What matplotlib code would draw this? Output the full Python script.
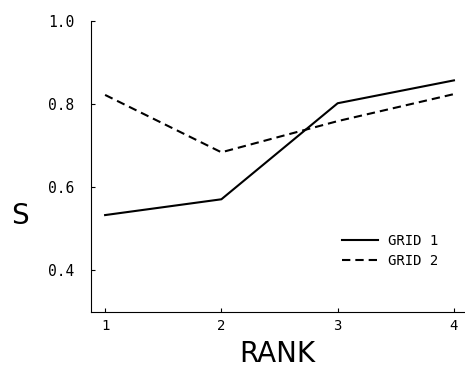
# similarity S against rank for two grids

import matplotlib
matplotlib.use('Agg')
from matplotlib import pyplot as plt

rank = [1, 2, 3, 4]
grid1 = [0.533, 0.571, 0.802, 0.857]
grid2 = [0.822, 0.684, 0.759, 0.824]
series_names = ['GRID 1', 'GRID 2']
yticks = [0.4, 0.6, 0.8, 1.0]
ytick_labels = ['0.4', '0.6', '0.8', '1.0']

mono = 'DejaVu Sans Mono'

fig = plt.figure(figsize=(4.65, 3.67), dpi=100)
ax = fig.add_axes([0.196, 0.150, 0.804, 0.793])

ax.plot(rank, grid1, color='black', lw=1.5, label=series_names[0])
ax.plot(rank, grid2, color='black', lw=1.5, dashes=(4, 2.4),
        label=series_names[1])

ax.set_xlim(0.88, 4.095)
ax.set_ylim(0.3, 1.0)
ax.set_xticks(rank)
ax.set_xticklabels([str(r) for r in rank], fontfamily=mono, fontsize=10)
ax.set_yticks(yticks)
ax.set_yticklabels(ytick_labels, fontfamily=mono, fontsize=10.5)

ax.spines['top'].set_visible(False)
ax.spines['right'].set_visible(False)
ax.tick_params(axis='y', direction='in', length=3, width=0.8, pad=12)
ax.tick_params(axis='x', direction='in', length=3, width=0.8, pad=5)

ax.set_xlabel('RANK', fontsize=20, va='center')
ax.xaxis.set_label_coords(0.497, -0.145)
ax.set_ylabel('S', fontsize=20, rotation=0, va='center')
ax.yaxis.set_label_coords(-0.19, 0.33)

leg = ax.legend(loc='center left', bbox_to_anchor=(0.7355, 0.316),
                bbox_transform=fig.transFigure, frameon=False,
                borderpad=0, borderaxespad=0, handlelength=2.6,
                handletextpad=0.7, labelspacing=0.45,
                prop={'family': mono, 'size': 10})

fig.savefig('out.png', dpi=100)
